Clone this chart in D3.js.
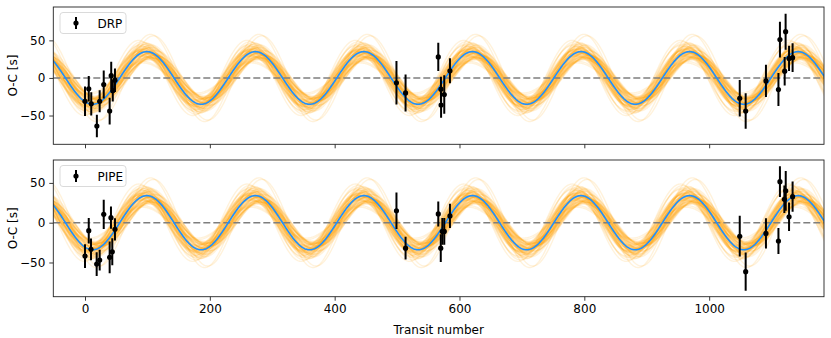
<!DOCTYPE html>
<html>
<head>
<meta charset="utf-8">
<script src="https://cdn.jsdelivr.net/npm/d3@7"></script>
<style>
  body { margin: 0; background: #fff; }
  svg { font-family: "DejaVu Sans", sans-serif; }
</style>
</head>
<body>
<div id="chart"></div>
<script>
// observed transit timings (DRP and PIPE reductions)
const drpX = [0, 6, 10, 19, 23.5, 30, 39.5, 42, 44.5, 48, 499, 513.6, 566, 570.3, 570.5, 575.6, 584.7, 1049, 1058.5, 1091, 1111, 1113.4, 1121, 1122.5, 1128, 1133.7];
const drpY = [-31, -14.5, -34.5, -64, -31, -8.7, -44, 3, -17, -3, -6.5, -20, 28, -15, -36, -22, 9.5, -27, -44, -4, -15.5, 51, 9, 61.5, 26, 27];
const drpErr = [19.6, 17, 15.6, 15, 14.5, 18.5, 17.8, 18.5, 14.5, 15.6, 29, 24.5, 18.7, 16.7, 17, 25.6, 16.7, 24.4, 23.5, 21.5, 22, 23.8, 19, 24, 16.7, 19];

const pipeX = [0, 6, 9.6, 18.7, 23.5, 30, 39.5, 41.6, 43.7, 48, 499, 513.6, 566, 570, 572.5, 575.6, 584.7, 1049, 1058.5, 1091, 1111, 1113.4, 1120.5, 1122.7, 1128, 1133.7];
const pipeY = [-42, -10, -33.5, -52, -47, 10.5, -43.5, 6.3, -36.5, -8.3, 15, -32, 11, -32, -11, -11, 8.5, -17, -61.5, -13.5, -23, 51.6, 29.4, 40, 7.5, 32.7];
const pipeErr = [15, 16, 13.6, 15, 13, 18.5, 20, 14, 17, 14, 23, 14.3, 15.7, 17.4, 16.8, 16.8, 15.3, 25.6, 24, 19, 16.4, 19.3, 17.2, 25, 17.8, 19];

// best fit sinusoid: amplitude [s], period [transits], epoch of a maximum
const bestAmp = [35, 34];
const bestPeriod = 173.9;
const bestPeak = 620.8;

// posterior draws (amplitude, period, shift of the maximum near transit 620)
const sampleAmp = [35, 28, 42, 31, 38, 25, 45, 33, 36, 30, 40, 27, 48, 34, 37, 29, 43, 32, 39, 26,
  46, 35, 30, 41, 33, 36, 24, 44, 31, 38, 28, 50, 34, 37, 29, 41, 32, 39, 27, 35,
  43, 30, 36, 33, 40, 20, 56, 34, 22, 58, 37, 31, 44, 29, 35, 39, 26, 42, 33, 36,
  30, 47, 34, 38, 28, 41, 35, 32, 45, 27];
const samplePeriod = [173.9, 174.3, 173.5, 174.0, 173.7, 174.6, 173.2, 173.9, 174.2, 173.6, 174.4, 173.8, 173.4, 174.1, 173.9, 174.5, 173.3, 174.0, 173.7, 174.2,
  173.6, 174.8, 173.9, 173.5, 174.1, 174.0, 173.8, 174.3, 173.1, 174.0, 173.9, 173.6, 174.4, 173.8, 174.1, 173.7, 174.2, 173.9, 173.5, 174.6,
  174.0, 173.8, 173.4, 174.2, 173.9, 174.1, 173.7, 174.0, 174.3, 173.6, 173.8, 174.1, 174.0, 173.5, 174.4, 173.7, 173.9, 174.2, 173.3, 174.0,
  173.8, 174.1, 173.6, 174.5, 173.9, 173.4, 174.0, 174.2, 173.7, 173.9];
const sampleShift = [0, 6, -5, 10, -8, 3, -11, 5, -3, 13, -6, 2, -10, 8, -2, 11, -13, 3, -5, 8,
  0, -8, 14, -3, 5, -10, 6, -2, 10, -6, 3, -14, 2, 11, -5, 6, -11, 0, 8, -3,
  5, -8, 13, -2, 3, -6, 10, 0, -5, 5, 1, -4, 7, -9, 4, -1, 9, -7, 2, -12,
  12, -3, 6, -9, 1, 4, -4, 7, -1, 9];

const panels = [
  { name: "DRP", x: drpX, y: drpY, err: drpErr, yDomain: [-88.3, 94.4], top: 7, bottom: 144.3, amp: bestAmp[0] },
  { name: "PIPE", x: pipeX, y: pipeY, err: pipeErr, yDomain: [-93, 78.8], top: 160, bottom: 296.7, amp: bestAmp[1] }
];

const xTicks = [0, 200, 400, 600, 800, 1000];
const yTicks = [-50, 0, 50];

const width = 831, height = 338;
const left = 53.3, right = 824;

const svg = d3.select("#chart").append("svg")
  .attr("width", width)
  .attr("height", height);

const x = d3.scaleLinear().domain([-50.8, 1184]).range([left, right]);

const grid = d3.range(-52, 1187, 1);
const sine = (A, P, peak) => t => A * Math.cos(2 * Math.PI * (t - peak) / P);

const fmt = v => (v < 0 ? "\u2212" + Math.abs(v) : String(v));

panels.forEach((p, k) => {
  const y = d3.scaleLinear().domain(p.yDomain).range([p.bottom, p.top]);
  const g = svg.append("g");

  const clipId = "clip" + k;
  svg.append("clipPath").attr("id", clipId)
    .append("rect")
    .attr("x", left).attr("y", p.top)
    .attr("width", right - left).attr("height", p.bottom - p.top);

  const plot = g.append("g").attr("clip-path", `url(#${clipId})`);

  const line = d3.line().x(d => x(d[0])).y(d => y(d[1]));

  // posterior samples
  sampleAmp.forEach((A, i) => {
    const f = sine(A * p.amp / 35, samplePeriod[i], bestPeak + sampleShift[i]);
    plot.append("path")
      .attr("d", line(grid.map(t => [t, f(t)])))
      .attr("fill", "none")
      .attr("stroke", "#ffa500")
      .attr("stroke-opacity", 0.14)
      .attr("stroke-width", 1.4);
  });

  // zero line
  plot.append("line")
    .attr("x1", left).attr("x2", right)
    .attr("y1", y(0)).attr("y2", y(0))
    .attr("stroke", "#7f7f7f")
    .attr("stroke-width", 1.4)
    .attr("stroke-dasharray", "7,3");

  // best model
  const fb = sine(p.amp, bestPeriod, bestPeak);
  plot.append("path")
    .attr("d", line(grid.map(t => [t, fb(t)])))
    .attr("fill", "none")
    .attr("stroke", "#1e90ff")
    .attr("stroke-width", 1.6);

  // data with error bars
  const pts = p.x.map((v, i) => ({ t: v, oc: p.y[i], e: p.err[i] }));
  plot.selectAll("line.err")
    .data(pts)
    .enter()
    .append("line")
    .attr("class", "err")
    .attr("x1", d => x(d.t)).attr("x2", d => x(d.t))
    .attr("y1", d => y(d.oc - d.e)).attr("y2", d => y(d.oc + d.e))
    .attr("stroke", "#000")
    .attr("stroke-width", 2);
  plot.selectAll("circle")
    .data(pts)
    .enter()
    .append("circle")
    .attr("cx", d => x(d.t))
    .attr("cy", d => y(d.oc))
    .attr("r", 2.6)
    .attr("fill", "#000");

  // axes
  const xAxis = g.append("g")
    .attr("transform", `translate(0,${p.bottom})`)
    .call(d3.axisBottom(x).tickValues(xTicks).tickSize(4).tickPadding(4)
      .tickFormat(k === 1 ? fmt : () => ""));
  const yAxis = g.append("g")
    .attr("transform", `translate(${left},0)`)
    .call(d3.axisLeft(y).tickValues(yTicks).tickSize(4).tickPadding(4).tickFormat(fmt));

  [xAxis, yAxis].forEach(a => {
    a.select(".domain").remove();
    a.selectAll("line").attr("stroke", "#222").attr("stroke-width", 0.9);
    a.selectAll("text").attr("font-size", 12).attr("fill", "#000")
      .attr("font-family", "DejaVu Sans");
  });

  // frame
  g.append("rect")
    .attr("x", left).attr("y", p.top)
    .attr("width", right - left).attr("height", p.bottom - p.top)
    .attr("fill", "none")
    .attr("stroke", "#222")
    .attr("stroke-width", 0.9);

  // y label
  g.append("text")
    .attr("transform", `translate(17,${(p.top + p.bottom) / 2}) rotate(-90)`)
    .attr("text-anchor", "middle")
    .attr("font-size", 12)
    .text("O-C [s]");

  // legend
  const lg = g.append("g").attr("transform", `translate(60,${p.top + 5.5})`);
  lg.append("rect")
    .attr("width", 66).attr("height", 21)
    .attr("rx", 3)
    .attr("fill", "#fff").attr("fill-opacity", 0.8)
    .attr("stroke", "#d6d6d6").attr("stroke-width", 0.9);
  lg.append("line")
    .attr("x1", 16).attr("x2", 16)
    .attr("y1", 4.5).attr("y2", 16.5)
    .attr("stroke", "#000").attr("stroke-width", 2);
  lg.append("circle").attr("cx", 16).attr("cy", 10.5).attr("r", 2.6).attr("fill", "#000");
  lg.append("text")
    .attr("x", 37.5).attr("y", 15)
    .attr("font-size", 12)
    .text(p.name);
});

svg.append("text")
  .attr("x", (left + right) / 2)
  .attr("y", 334)
  .attr("text-anchor", "middle")
  .attr("font-size", 12)
  .text("Transit number");
</script>
</body>
</html>
